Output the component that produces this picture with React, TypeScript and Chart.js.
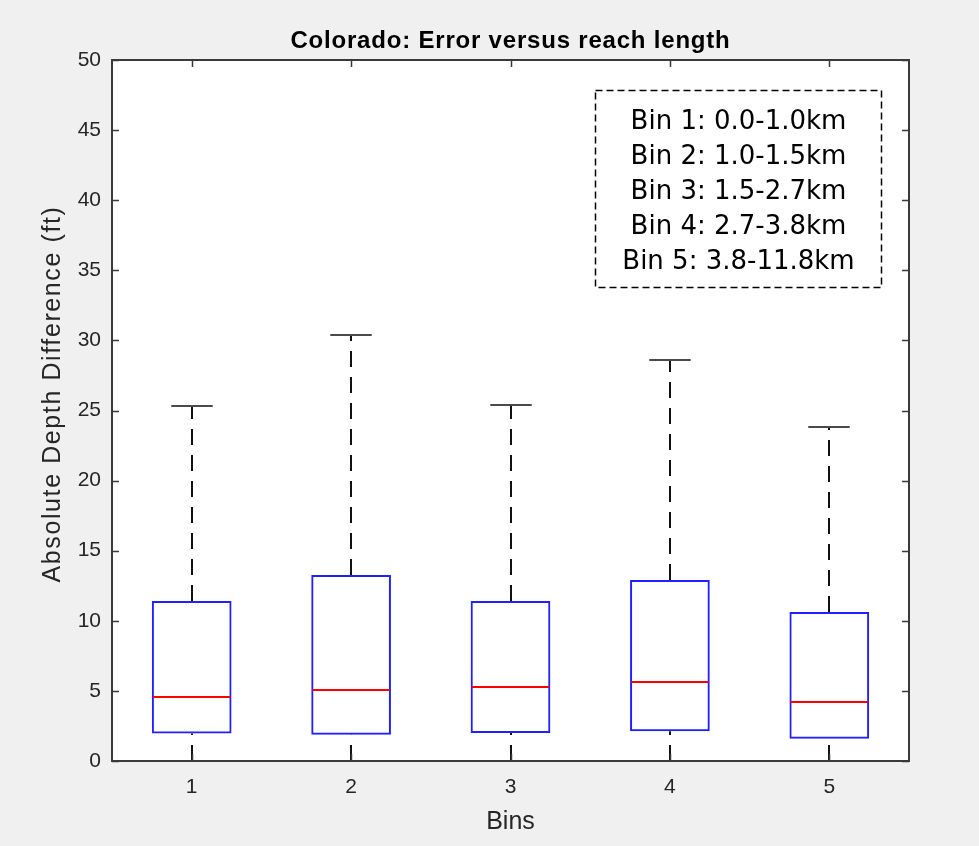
import { useEffect, useRef } from 'react';
import { Chart, registerables } from 'chart.js';

Chart.register(...registerables);

const bins = ['1', '2', '3', '4', '5'];
const whiskerLow = [0, 0, 0, 0, 0];
const q1 = [1.97, 1.88, 2.0, 2.12, 1.59];
const medians = [4.56, 5.06, 5.28, 5.66, 4.19];
const q3 = [11.41, 13.27, 11.41, 12.91, 10.63];
const whiskerHigh = [25.32, 30.39, 25.39, 28.62, 23.84];
const yMin = 0;
const yMax = 50;
const yStep = 5;
const binRanges = [
  'Bin 1: 0.0-1.0km',
  'Bin 2: 1.0-1.5km',
  'Bin 3: 1.5-2.7km',
  'Bin 4: 2.7-3.8km',
  'Bin 5: 3.8-11.8km',
];
const chartTitle = 'Colorado: Error versus reach length';
const xTitle = 'Bins';
const yTitle = 'Absolute Depth Difference (ft)';

const FONT = "'Liberation Sans', Arial, Helvetica, sans-serif";
const AXIS_COLOR = '#3a3a3a';
const TEXT_COLOR = '#262626';

const boxPlugin = {
  id: 'boxExtras',
  beforeDraw(chart: any) {
    const { ctx, chartArea: a, width, height } = chart;
    ctx.save();
    ctx.fillStyle = '#f0f0f0';
    ctx.fillRect(0, 0, width, height);
    ctx.fillStyle = '#ffffff';
    ctx.fillRect(a.left, a.top, a.right - a.left, a.bottom - a.top);
    ctx.restore();
  },
  beforeDatasetsDraw(chart: any) {
    const { ctx } = chart;
    const xs = chart.scales.x;
    const ys = chart.scales.y;
    const cat = xs.getPixelForValue(1) - xs.getPixelForValue(0);
    const capHalf = cat * 0.13;
    ctx.save();
    bins.forEach((_, i) => {
      const x = Math.round(xs.getPixelForValue(i));
      ctx.strokeStyle = '#111111';
      ctx.lineWidth = 2;
      ctx.setLineDash([16, 10]);
      ctx.beginPath();
      ctx.moveTo(x, ys.getPixelForValue(q3[i]));
      ctx.lineTo(x, ys.getPixelForValue(whiskerHigh[i]));
      ctx.stroke();
      ctx.beginPath();
      ctx.moveTo(x, ys.getPixelForValue(whiskerLow[i]));
      ctx.lineTo(x, ys.getPixelForValue(q1[i]));
      ctx.stroke();
      ctx.setLineDash([]);
      ctx.strokeStyle = '#4a4a4a';
      ctx.lineWidth = 2;
      [whiskerHigh[i], whiskerLow[i]].forEach((v) => {
        const y = Math.round(ys.getPixelForValue(v));
        ctx.beginPath();
        ctx.moveTo(x - capHalf, y);
        ctx.lineTo(x + capHalf, y);
        ctx.stroke();
      });
    });
    ctx.restore();
  },
  afterDatasetsDraw(chart: any) {
    const { ctx, chartArea: a } = chart;
    const xs = chart.scales.x;
    const ys = chart.scales.y;
    const cat = xs.getPixelForValue(1) - xs.getPixelForValue(0);
    const boxHalf = cat * 0.25;
    ctx.save();
    // medians
    ctx.strokeStyle = '#ff0000';
    ctx.lineWidth = 2;
    bins.forEach((_, i) => {
      const x = xs.getPixelForValue(i);
      const y = Math.round(ys.getPixelForValue(medians[i]));
      ctx.beginPath();
      ctx.moveTo(x - boxHalf + 1, y);
      ctx.lineTo(x + boxHalf - 1, y);
      ctx.stroke();
    });
    // axes box
    ctx.strokeStyle = AXIS_COLOR;
    ctx.lineWidth = 2;
    ctx.strokeRect(a.left, a.top, a.right - a.left, a.bottom - a.top);
    // inner ticks
    ctx.lineWidth = 1.5;
    const tl = 7;
    ys.ticks.forEach((t: any) => {
      const y = Math.round(ys.getPixelForValue(t.value)) + 0.5;
      ctx.beginPath();
      ctx.moveTo(a.left, y);
      ctx.lineTo(a.left + tl, y);
      ctx.moveTo(a.right, y);
      ctx.lineTo(a.right - tl, y);
      ctx.stroke();
    });
    xs.ticks.forEach((_: any, i: number) => {
      const x = Math.round(xs.getPixelForValue(i)) + 0.5;
      ctx.beginPath();
      ctx.moveTo(x, a.top);
      ctx.lineTo(x, a.top + tl);
      ctx.moveTo(x, a.bottom);
      ctx.lineTo(x, a.bottom - tl);
      ctx.stroke();
    });
    // annotation box
    const bx = 595.5;
    const by = 90.5;
    const bw = 286;
    const bh = 197;
    ctx.fillStyle = '#ffffff';
    ctx.fillRect(bx, by, bw, bh);
    ctx.setLineDash([7, 4]);
    ctx.strokeStyle = '#000000';
    ctx.lineWidth = 1.5;
    ctx.strokeRect(bx, by, bw, bh);
    ctx.setLineDash([]);
    ctx.fillStyle = '#000000';
    ctx.font = "26px 'DejaVu Sans', Verdana, sans-serif";
    ctx.textAlign = 'center';
    ctx.textBaseline = 'middle';
    binRanges.forEach((s, i) => {
      ctx.fillText(s, bx + bw / 2, by + 32 + i * 35);
    });
    // chart title
    ctx.fillStyle = '#000000';
    ctx.font = `bold 24px ${FONT}`;
    (ctx as any).letterSpacing = '0.8px';
    ctx.textAlign = 'center';
    ctx.textBaseline = 'middle';
    ctx.fillText(chartTitle, (a.left + a.right) / 2, 41);
    // y axis title
    ctx.fillStyle = TEXT_COLOR;
    ctx.font = `25px ${FONT}`;
    (ctx as any).letterSpacing = '1.6px';
    ctx.translate(53, 394);
    ctx.rotate(-Math.PI / 2);
    ctx.fillText(yTitle, 0, 0);
    ctx.restore();
  },
};

export default function App() {
  const ref = useRef<HTMLCanvasElement>(null);
  useEffect(() => {
    if (!ref.current) return;
    const chart = new Chart(ref.current, {
      type: 'bar',
      data: {
        labels: bins,
        datasets: [
          {
            data: q1.map((v, i) => [v, q3[i]]) as any,
            backgroundColor: 'rgba(0,0,0,0)',
            borderColor: '#1f1fff',
            borderWidth: 2,
            borderSkipped: false,
            barPercentage: 0.5,
            categoryPercentage: 1,
          },
        ],
      },
      options: {
        responsive: false,
        animation: false,
        events: [],
        layout: { padding: { top: 60, left: 0, right: 70, bottom: 0 } },
        plugins: {
          legend: { display: false },
          tooltip: { enabled: false },
          title: { display: false },
        },
        scales: {
          x: {
            grid: { display: false, drawTicks: false },
            border: { display: false },
            ticks: { color: TEXT_COLOR, font: { family: FONT, size: 21 }, padding: 14 },
            title: {
              display: true,
              text: xTitle,
              color: TEXT_COLOR,
              font: { family: FONT, size: 25 },
              padding: { top: 0, bottom: 9 },
            },
            afterFit(scale: any) {
              scale.height = 85;
            },
          },
          y: {
            min: yMin,
            max: yMax,
            grid: { display: false, drawTicks: false },
            border: { display: false },
            ticks: { stepSize: yStep, color: TEXT_COLOR, font: { family: FONT, size: 21 }, padding: 11 },
            title: { display: false, text: yTitle },
            afterFit(scale: any) {
              scale.width = 112;
            },
          },
        },
      },
      plugins: [boxPlugin],
    });
    return () => chart.destroy();
  }, []);
  return (
    <div style={{ position: 'absolute', left: 0, top: 0, width: 979, height: 846 }}>
      <canvas ref={ref} width={979} height={846} />
    </div>
  );
}
